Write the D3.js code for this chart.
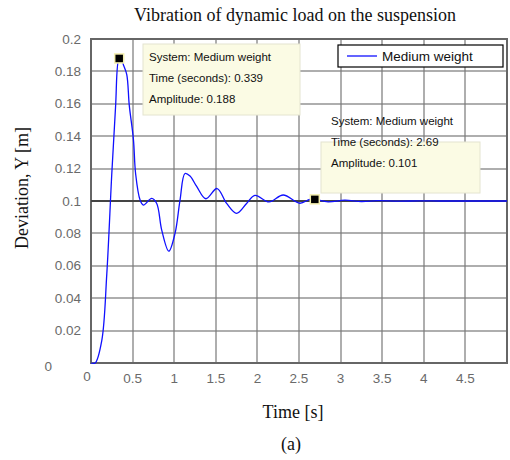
<!DOCTYPE html>
<html lang="en">
<head>
  <meta charset="UTF-8">
  <title>Vibration of dynamic load</title>
  <script src="https://d3js.org/d3.v7.min.js"></script>
  <style>
    body { margin: 0; background: #fff; }
    svg { display: block; }
    .tick-label { font-family: "Liberation Sans", sans-serif; font-size: 13.5px; fill: #6a6a6a; }
    .serif { font-family: "Liberation Serif", serif; fill: #111; }
    .tip { font-family: "Liberation Sans", sans-serif; font-size: 11.5px; fill: #111; }
  </style>
</head>
<body>

<svg width="510" height="460"></svg>

<script>
  // response of the suspension
  const time = [0, 0.05, 0.13, 0.19, 0.25, 0.295, 0.339, 0.37, 0.39, 0.43, 0.46, 0.51, 0.536, 0.59, 0.63,
    0.73, 0.79, 0.85, 0.935, 1.01, 1.07, 1.13, 1.19, 1.27, 1.38, 1.515, 1.63, 1.75, 1.87, 1.97, 2.14,
    2.31, 2.51, 2.63, 2.69, 2.85, 3.05, 3.25, 3.45, 3.7, 3.95, 4.2, 4.5, 4.75, 5.0];
  const deviation = [0, 0, 0.014, 0.055, 0.117, 0.158, 0.188, 0.187, 0.184, 0.178, 0.159, 0.138, 0.117, 0.1006, 0.0975,
    0.1016, 0.0985, 0.082, 0.069, 0.080, 0.1006, 0.117, 0.1154, 0.109, 0.1014, 0.1077, 0.0985, 0.0924, 0.0985, 0.1035, 0.0994,
    0.1037, 0.0986, 0.101, 0.101, 0.0995, 0.1005, 0.0997, 0.1002, 0.0999, 0.1001, 0.1, 0.1, 0.1, 0.1];

  const xTicks = [0, 0.5, 1, 1.5, 2, 2.5, 3, 3.5, 4, 4.5];
  const yTicks = [0, 0.02, 0.04, 0.06, 0.08, 0.1, 0.12, 0.14, 0.16, 0.18, 0.2];
  const steadyState = 0.1;

  const tips = [
    { t: 0.339, y: 0.188, lines: ["System: Medium weight", "Time (seconds): 0.339", "Amplitude: 0.188"] },
    { t: 2.69, y: 0.101, lines: ["System: Medium weight", "Time (seconds): 2.69", "Amplitude: 0.101"] }
  ];

  const svg = d3.select("svg");
  const plot = { left: 91, right: 507, top: 39, bottom: 363 };

  const x = d3.scaleLinear().domain([0, 5]).range([plot.left, plot.right]);
  const y = d3.scaleLinear().domain([0, 0.2]).range([plot.bottom, plot.top]);

  // grid (rects 1px wide, filled)
  svg.selectAll("rect.gx").data(xTicks).join("rect")
    .attr("class", "gx")
    .attr("x", d => Math.round(x(d)) - 0.6).attr("width", 1.2)
    .attr("y", plot.top).attr("height", plot.bottom - plot.top)
    .attr("fill", "#7a7a7a");
  svg.selectAll("rect.gy").data(yTicks).join("rect")
    .attr("class", "gy")
    .attr("y", d => Math.round(y(d)) - 0.6).attr("height", 1.2)
    .attr("x", plot.left).attr("width", plot.right - plot.left)
    .attr("fill", "#7a7a7a");

  // frame sides
  svg.append("rect").attr("x", plot.left - 1).attr("y", plot.top - 1).attr("width", 2).attr("height", plot.bottom - plot.top + 2).attr("fill", "#666");
  svg.append("rect").attr("x", plot.right - 1).attr("y", plot.top - 1).attr("width", 2).attr("height", plot.bottom - plot.top + 2).attr("fill", "#666");
  svg.append("rect").attr("x", plot.left - 1).attr("y", plot.top - 1).attr("width", plot.right - plot.left + 2).attr("height", 2).attr("fill", "#666");
  svg.append("rect").attr("x", plot.left - 1).attr("y", plot.bottom - 1).attr("width", plot.right - plot.left + 2).attr("height", 2).attr("fill", "#666");

  // tick labels
  svg.selectAll("text.xl").data(xTicks).join("text")
    .attr("class", "xl tick-label")
    .attr("x", d => d === 0 ? x(d) - 4 : x(d))
    .attr("y", d => d === 0 ? 381 : 383)
    .attr("text-anchor", "middle")
    .text(d => d);

  svg.selectAll("text.yl").data(yTicks).join("text")
    .attr("class", "yl tick-label")
    .attr("x", d => d === 0 ? 52 : 81)
    .attr("y", d => d === 0 ? y(d) + 8 : y(d) + 4.5)
    .attr("text-anchor", "end")
    .text(d => d);

  // steady state line
  svg.append("line")
    .attr("x1", plot.left).attr("x2", plot.right)
    .attr("y1", y(steadyState)).attr("y2", y(steadyState))
    .attr("stroke", "#444").attr("stroke-width", 2);

  // response curve
  const pts = time.map((t, i) => [t, deviation[i]]);
  svg.append("path")
    .datum(pts)
    .attr("fill", "none")
    .attr("stroke", "#1010ff")
    .attr("stroke-width", 1.3)
    .attr("d", d3.line().x(d => x(d[0])).y(d => y(d[1])).curve(d3.curveCatmullRom));

  // data tips
  const tipBoxes = [
    { x: 143, y: 44, w: 157, h: 71, tx: 149, ty: 61 },
    { x: 321, y: 142, w: 159, h: 51, tx: 331, ty: 125 }
  ];
  tips.forEach((tp, i) => {
    const b = tipBoxes[i];
    svg.append("rect")
      .attr("x", b.x).attr("y", b.y).attr("width", b.w).attr("height", b.h)
      .attr("fill", "#fbfbe4").attr("stroke", "#e4e4d0");
    tp.lines.forEach((s, j) => {
      svg.append("text").attr("class", "tip")
        .attr("x", b.tx).attr("y", b.ty + j * 21)
        .text(s);
    });
    svg.append("rect")
      .attr("x", x(tp.t) - 4.5).attr("y", y(tp.y) - 4.5)
      .attr("width", 9).attr("height", 9)
      .attr("fill", "#000").attr("stroke", "#f5f0b0").attr("stroke-width", 1.5);
  });

  // legend
  const lg = svg.append("g");
  lg.append("rect").attr("x", 338).attr("y", 45).attr("width", 165).attr("height", 22)
    .attr("fill", "#fff").attr("stroke", "#000").attr("stroke-width", 1.2);
  lg.append("line").attr("x1", 347).attr("x2", 377).attr("y1", 56).attr("y2", 56)
    .attr("stroke", "#1010ff").attr("stroke-width", 1.3);
  lg.append("text").attr("class", "tip").attr("x", 382).attr("y", 61).style("font-size", "13.5px").text("Medium weight");

  // titles
  svg.append("text").attr("class", "serif")
    .attr("x", 295).attr("y", 21).attr("text-anchor", "middle")
    .style("font-size", "18px")
    .text("Vibration of dynamic load on the suspension");

  svg.append("text").attr("class", "serif")
    .attr("x", 293).attr("y", 418).attr("text-anchor", "middle")
    .style("font-size", "18px")
    .text("Time [s]");

  svg.append("text").attr("class", "serif")
    .attr("transform", "translate(28,188) rotate(-90)")
    .attr("text-anchor", "middle")
    .style("font-size", "18px")
    .text("Deviation, Y [m]");

  svg.append("text").attr("class", "serif")
    .attr("x", 291).attr("y", 450).attr("text-anchor", "middle")
    .style("font-size", "18px")
    .text("(a)");
</script>

</body>
</html>
